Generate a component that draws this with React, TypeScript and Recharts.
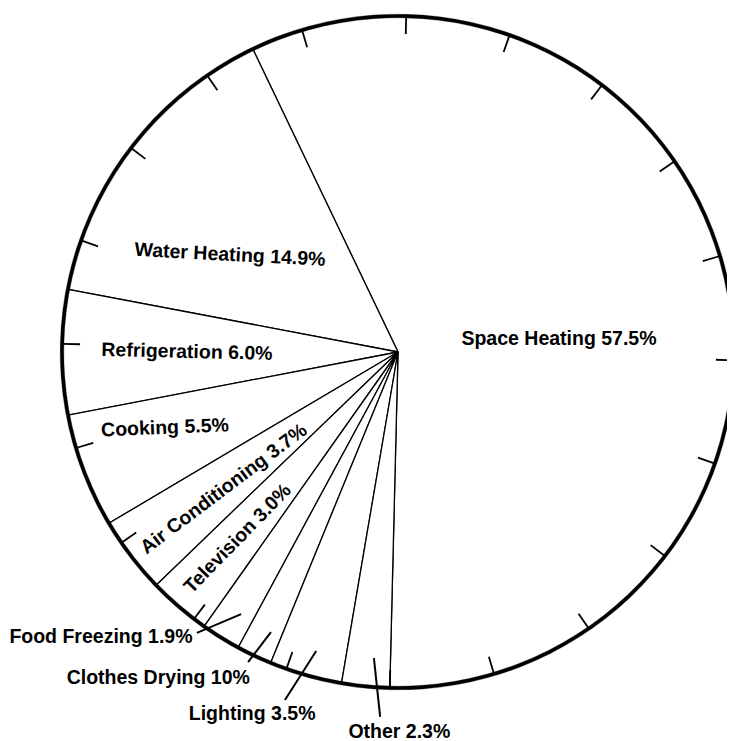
import React from 'react';
import { PieChart, Pie, Cell } from 'recharts';

// ---- data ----
const categories = [
  'Space Heating', 'Water Heating', 'Refrigeration', 'Cooking', 'Air Conditioning',
  'Television', 'Food Freezing', 'Clothes Drying', 'Lighting', 'Other',
];
const shares = [57.5, 14.9, 6.0, 5.5, 3.7, 3.0, 1.9, 1.7, 3.5, 2.3];
const labelTexts = [
  'Space Heating 57.5%', 'Water Heating 14.9%', 'Refrigeration 6.0%', 'Cooking 5.5%',
  'Air Conditioning 3.7%', 'Television 3.0%', 'Food Freezing 1.9%', 'Clothes Drying 10%',
  'Lighting 3.5%', 'Other 2.3%',
];
// scale ticks around the rim, one every 5%
const scaleTicks = [5, 5, 5, 5, 5, 5, 5, 5, 5, 5, 5, 5, 5, 5, 5, 5, 5, 5, 5, 5];
// rim drawn as four quarter arcs
const rimParts = [25, 25, 25, 25];

const sliceData = categories.map((name, i) => ({ name, value: shares[i], label: labelTexts[i] }));
const tickData = scaleTicks.map((v, i) => ({ name: `t${i}`, value: v }));
const rimData = rimParts.map((v, i) => ({ name: `r${i}`, value: v }));

// ---- layout / style (polar offsets relative to the pie centre) ----
const START = -91.4;
const R = 336;
const TICK_LEN = 18;
const FONT = '"Liberation Sans", Arial, sans-serif';
const labelLayout: Record<number, { r: number; a: number; rot?: number; lead?: number[] }> = {
  0: { r: 161.6, a: 5.0 },
  1: { r: 194.5, a: 149.7, rot: 3 },
  2: { r: 211, a: 179.7, rot: 1.3 },
  3: { r: 244.8, a: 197.8, rot: -2.3 },
  4: { r: 221.6, a: 217.9, rot: -37 },
  5: { r: 246, a: 229.1, rot: -45.6 },
  6: { r: 410.9, a: 223.7, lead: [345.5, 234.4, 305.4, 239.1] },
  7: { r: 404, a: 233.6, lead: [344.4, 244.2, 307.5, 245.6] },
  8: { r: 389.4, a: 248.0, lead: [365.9, 252.0, 310, 254.7] },
  9: { r: 379, a: 270.2, lead: [365.4, 267.2, 307, 265.5] },
};

const RAD = Math.PI / 180;
const polar = (cx: number, cy: number, r: number, a: number) => ({
  x: cx + r * Math.cos(a * RAD),
  y: cy - r * Math.sin(a * RAD),
});

const renderSliceLabel = (props: any) => {
  const { cx, cy, index } = props;
  const lay = labelLayout[index];
  if (!lay) return null;
  const p = polar(cx, cy, lay.r, lay.a);
  let lead = null;
  if (lay.lead) {
    const p1 = polar(cx, cy, lay.lead[0], lay.lead[1]);
    const p2 = polar(cx, cy, lay.lead[2], lay.lead[3]);
    lead = <line x1={p1.x} y1={p1.y} x2={p2.x} y2={p2.y} stroke="#000" strokeWidth={2} />;
  }
  return (
    <g key={`lbl-${index}`}>
      {lead}
      <text
        x={p.x}
        y={p.y}
        textAnchor="middle"
        dominantBaseline="central"
        fontFamily={FONT}
        fontWeight="bold"
        fontSize={19.5}
        fill="#000"
        stroke="none"
        transform={lay.rot ? `rotate(${lay.rot} ${p.x} ${p.y})` : undefined}
      >
        {labelTexts[index]}
      </text>
    </g>
  );
};

const renderTick = (props: any) => {
  const { cx, cy, midAngle, outerRadius, index } = props;
  const p1 = polar(cx, cy, outerRadius, midAngle);
  const p2 = polar(cx, cy, outerRadius - TICK_LEN, midAngle);
  return <line key={`tick-${index}`} x1={p1.x} y1={p1.y} x2={p2.x} y2={p2.y} stroke="#000" strokeWidth={1.8} />;
};

export default function App() {
  return (
    <div style={{ width: 727, height: 733, background: '#fff' }}>
      <PieChart width={727} height={733} margin={{ top: 0, right: 0, bottom: 0, left: 0 }}>
        <Pie
          data={sliceData}
          dataKey="value"
          nameKey="name"
          cx={390}
          cy={344}
          outerRadius={R}
          startAngle={START}
          endAngle={START + 360}
          stroke="#000"
          strokeWidth={1.3}
          fill="#fff"
          label={renderSliceLabel}
          labelLine={false}
          isAnimationActive={false}
        >
          {sliceData.map((d) => (
            <Cell key={d.name} fill="#fff" stroke="#000" strokeWidth={1.3} />
          ))}
        </Pie>
        <Pie
          data={rimData}
          dataKey="value"
          cx={390}
          cy={344}
          innerRadius={R - 1.8}
          outerRadius={R + 1.8}
          startAngle={START}
          endAngle={START + 360}
          fill="#000"
          stroke="#000"
          strokeWidth={0.3}
          isAnimationActive={false}
        />
        <Pie
          data={tickData}
          dataKey="value"
          cx={390}
          cy={344}
          outerRadius={R}
          startAngle={START - 9}
          endAngle={START - 9 + 360}
          fill="none"
          stroke="none"
          label={renderTick}
          labelLine={false}
          isAnimationActive={false}
        />
      </PieChart>
    </div>
  );
}
